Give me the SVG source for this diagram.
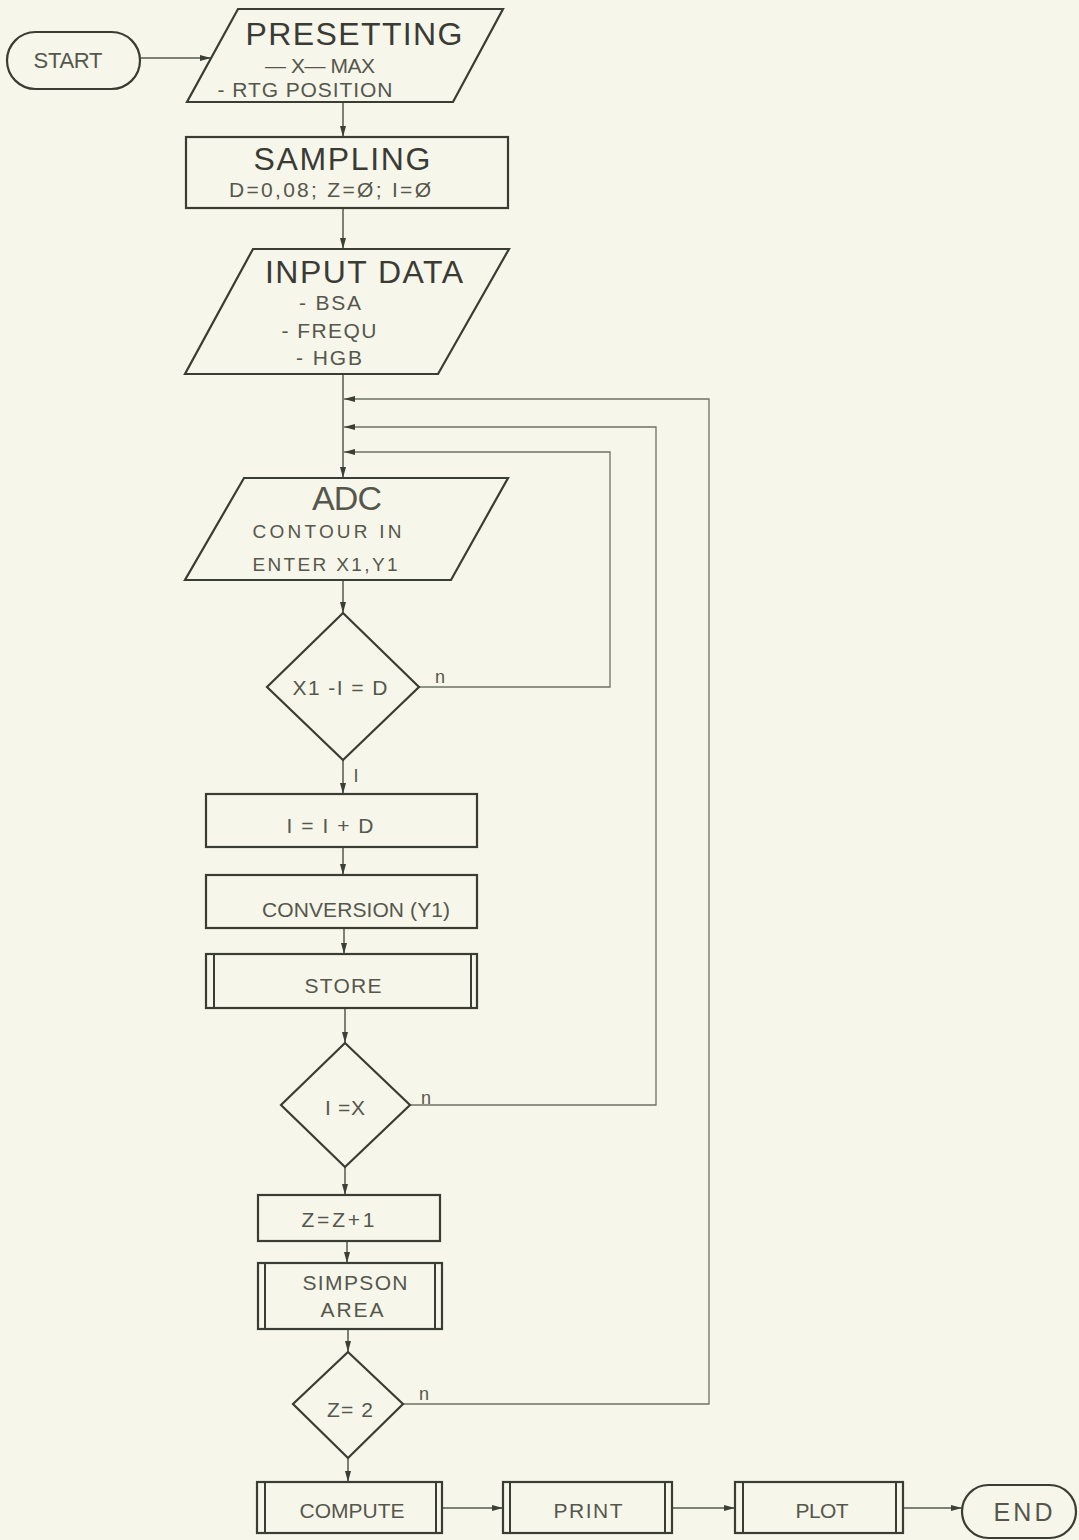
<svg xmlns="http://www.w3.org/2000/svg" width="1079" height="1540" viewBox="0 0 1079 1540">
<defs>
<marker id="ah" markerUnits="userSpaceOnUse" markerWidth="12" markerHeight="8" refX="11" refY="3.5" orient="auto">
<path d="M0,0.5 L11,3.5 L0,6.5 z" fill="#3c3f36"/>
</marker>
<style>
.bg{fill:#f7f6ea}
.shape{fill:none;stroke:#3a3d34;stroke-width:2.2}
.bar{stroke:#3a3d34;stroke-width:2}
.conn{fill:none;stroke:#55584d;stroke-width:1.5}
.loop{fill:none;stroke:#6f7266;stroke-width:1.3}
.t{font-family:"Liberation Sans",Arial,sans-serif;fill:#55574d;text-anchor:middle}
.big{font-size:32px;fill:#3a3b35}
.mid{font-size:21px}
.sm{font-size:19px}
.lbl{font-family:"Liberation Sans",Arial,sans-serif;fill:#55574d;font-size:18px}
</style>
</defs>
<rect class="bg" x="0" y="0" width="1079" height="1540"/>

<g id="connectors">
<line class="conn" x1="140" y1="58" x2="211" y2="58" marker-end="url(#ah)"/>
<line class="conn" x1="343" y1="102" x2="343" y2="137" marker-end="url(#ah)"/>
<line class="conn" x1="343" y1="208" x2="343" y2="249" marker-end="url(#ah)"/>
<line class="conn" x1="343" y1="374" x2="343" y2="478" marker-end="url(#ah)"/>
<line class="conn" x1="343" y1="580" x2="343" y2="613" marker-end="url(#ah)"/>
<line class="conn" x1="343" y1="760" x2="343" y2="794" marker-end="url(#ah)"/>
<line class="conn" x1="343" y1="847" x2="343" y2="875" marker-end="url(#ah)"/>
<line class="conn" x1="344" y1="928" x2="344" y2="954" marker-end="url(#ah)"/>
<line class="conn" x1="345" y1="1008" x2="345" y2="1043" marker-end="url(#ah)"/>
<line class="conn" x1="345" y1="1167" x2="345" y2="1195" marker-end="url(#ah)"/>
<line class="conn" x1="347" y1="1241" x2="347" y2="1263" marker-end="url(#ah)"/>
<line class="conn" x1="348" y1="1329" x2="348" y2="1352" marker-end="url(#ah)"/>
<line class="conn" x1="348" y1="1458" x2="348" y2="1482" marker-end="url(#ah)"/>
<line class="conn" x1="442" y1="1508" x2="503" y2="1508" marker-end="url(#ah)"/>
<line class="conn" x1="672" y1="1508" x2="735" y2="1508" marker-end="url(#ah)"/>
<line class="conn" x1="903" y1="1508" x2="962" y2="1508" marker-end="url(#ah)"/>
<polyline class="loop" points="419,687 610,687 610,452 344,452" marker-end="url(#ah)"/>
<polyline class="loop" points="410,1105 656,1105 656,427 344,427" marker-end="url(#ah)"/>
<polyline class="loop" points="403,1404 709,1404 709,399 344,399" marker-end="url(#ah)"/>
<text class="lbl" x="440" y="683" text-anchor="middle">n</text>
<text class="lbl" x="426" y="1104" text-anchor="middle">n</text>
<text class="lbl" x="424" y="1400" text-anchor="middle">n</text>
<text class="lbl" x="356" y="782" text-anchor="middle" font-size="15">I</text>
</g>

<g id="start">
<rect class="shape" x="7" y="32" width="133" height="57" rx="28.5"/>
<text class="t" x="68" y="68" font-size="22" textLength="69">START</text>
</g>

<g id="presetting">
<polygon class="shape" points="238,9 503,9 453,102 187,102"/>
<text class="t big" x="354" y="45" textLength="217">PRESETTING</text>
<text class="t mid" x="320" y="73" textLength="110">— X— MAX</text>
<text class="t mid" x="305" y="97" textLength="175">- RTG POSITION</text>
</g>

<g id="sampling">
<rect class="shape" x="186" y="137" width="322" height="71"/>
<text class="t big" x="342" y="170" textLength="177">SAMPLING</text>
<text class="t mid" x="330" y="197" textLength="202">D=0,08; Z=Ø; I=Ø</text>
</g>

<g id="input-data">
<polygon class="shape" points="253,249 509,249 438,374 185,374"/>
<text class="t big" x="364" y="283" textLength="198">INPUT DATA</text>
<text class="t mid" x="330" y="310" textLength="62">- BSA</text>
<text class="t mid" x="329" y="338" textLength="95">- FREQU</text>
<text class="t mid" x="329" y="365" textLength="66">- HGB</text>
</g>

<g id="adc">
<polygon class="shape" points="244,478 508,478 451,580 185,580"/>
<text class="t" x="347" y="510" font-size="34" fill="#3a3b35" textLength="70">ADC</text>
<text class="t sm" x="327" y="538" textLength="149">CONTOUR IN</text>
<text class="t sm" x="325" y="571" textLength="145">ENTER X1,Y1</text>
</g>

<g id="decision-x1">
<polygon class="shape" points="343,613 419,687 343,760 267,687"/>
<text class="t mid" x="340" y="695" textLength="95">X1 -I = D</text>
</g>

<g id="i-plus-d">
<rect class="shape" x="206" y="794" width="271" height="53"/>
<text class="t mid" x="330" y="833" textLength="87">I = I + D</text>
</g>

<g id="conversion">
<rect class="shape" x="206" y="875" width="271" height="53"/>
<text class="t mid" x="356" y="917" textLength="188">CONVERSION (Y1)</text>
</g>

<g id="store">
<rect class="shape" x="206" y="954" width="271" height="54"/>
<line class="bar" x1="214" y1="954" x2="214" y2="1008"/>
<line class="bar" x1="471" y1="954" x2="471" y2="1008"/>
<text class="t mid" x="343" y="993" textLength="77">STORE</text>
</g>

<g id="decision-ix">
<polygon class="shape" points="345,1043 410,1105 345,1167 281,1105"/>
<text class="t mid" x="345" y="1115" textLength="40">I =X</text>
</g>

<g id="z-plus-1">
<rect class="shape" x="258" y="1195" width="182" height="46"/>
<text class="t mid" x="338" y="1227" textLength="73">Z = Z + 1</text>
</g>

<g id="simpson">
<rect class="shape" x="258" y="1263" width="184" height="66"/>
<line class="bar" x1="265" y1="1263" x2="265" y2="1329"/>
<line class="bar" x1="435" y1="1263" x2="435" y2="1329"/>
<text class="t mid" x="355" y="1290" textLength="105">SIMPSON</text>
<text class="t mid" x="352" y="1317" textLength="63">AREA</text>
</g>

<g id="decision-z2">
<polygon class="shape" points="348,1352 403,1404 348,1458 293,1404"/>
<text class="t mid" x="350" y="1417" textLength="46">Z= 2</text>
</g>

<g id="compute">
<rect class="shape" x="257" y="1482" width="185" height="51"/>
<line class="bar" x1="265" y1="1482" x2="265" y2="1533"/>
<line class="bar" x1="436" y1="1482" x2="436" y2="1533"/>
<text class="t mid" x="352" y="1518" textLength="105">COMPUTE</text>
</g>

<g id="print">
<rect class="shape" x="503" y="1482" width="169" height="51"/>
<line class="bar" x1="510" y1="1482" x2="510" y2="1533"/>
<line class="bar" x1="665" y1="1482" x2="665" y2="1533"/>
<text class="t mid" x="588" y="1518" textLength="69">PRINT</text>
</g>

<g id="plot">
<rect class="shape" x="735" y="1482" width="168" height="51"/>
<line class="bar" x1="743" y1="1482" x2="743" y2="1533"/>
<line class="bar" x1="896" y1="1482" x2="896" y2="1533"/>
<text class="t mid" x="822" y="1518" textLength="53">PLOT</text>
</g>

<g id="end">
<rect class="shape" x="962" y="1485" width="114" height="53" rx="26.5"/>
<text class="t" x="1023" y="1521" font-size="25" textLength="59">END</text>
</g>
</svg>
